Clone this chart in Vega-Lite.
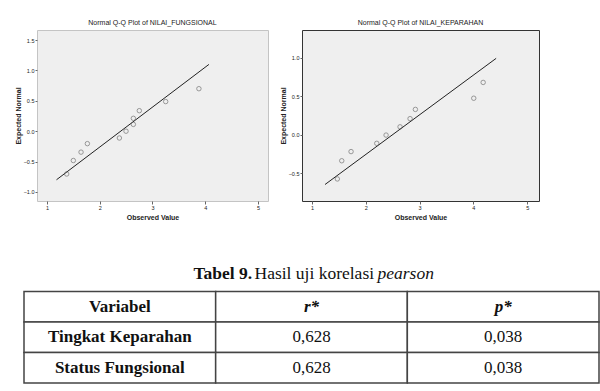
{
  "$schema": "https://vega.github.io/schema/vega-lite/v6.json",
  "background": "white",
  "padding": {"left": 13, "top": 18, "right": 0, "bottom": 0},
  "config": {"font": "Liberation Sans", "axis": {"grid": false, "labelOverlap": false, "labelFlush": false, "labelBound": false, "labelSeparation": 0}},
  "columns": 1,
  "align": "none",
  "spacing": 40,
  "concat": [
    {
      "spacing": 9,
      "hconcat": [
        {
          "width": 231,
          "height": 171,
          "view": {"fill": "#efefef", "stroke": "#c4c4c4"},
          "title": {"text": "Normal Q-Q Plot of NILAI_FUNGSIONAL", "fontSize": 7, "fontWeight": "normal", "color": "#222", "offset": 4},
          "encoding": {
            "x": {"field": "x", "type": "quantitative", "scale": {"domain": [0.81, 5.19], "nice": false, "zero": false},
              "axis": {"values": [1, 2, 3, 4, 5], "format": "d", "labelOverlap": false, "title": "Observed Value", "titleFontSize": 7, "titleFontWeight": "bold", "titleColor": "#222", "titlePadding": 3, "labelFontSize": 5.5, "labelColor": "#222", "labelPadding": 1, "tickSize": 3, "tickColor": "#666", "domain": false}},
            "y": {"field": "y", "type": "quantitative", "scale": {"domain": [-1.15, 1.667], "nice": false, "zero": false},
              "axis": {"values": [-1, -0.5, 0, 0.5, 1, 1.5], "format": ".1f", "labelOverlap": false, "title": "Expected Normal", "titleFontSize": 7, "titleFontWeight": "bold", "titleColor": "#222", "titlePadding": 2, "labelFontSize": 5.5, "labelColor": "#222", "labelPadding": 1, "tickSize": 2, "tickColor": "#666", "domain": false}}
          },
          "layer": [
            {
              "data": {"values": [{"x": 1.18, "y": -0.8}, {"x": 4.07, "y": 1.1}]},
              "mark": {"type": "line", "color": "#222", "strokeWidth": 1}
            },
            {
              "data": {"values": [
                {"x": 1.373, "y": -0.705}, {"x": 1.499, "y": -0.483}, {"x": 1.645, "y": -0.345}, {"x": 1.765, "y": -0.205},
                {"x": 2.372, "y": -0.112}, {"x": 2.498, "y": 0.0}, {"x": 2.637, "y": 0.112}, {"x": 2.637, "y": 0.212},
                {"x": 2.75, "y": 0.338}, {"x": 3.25, "y": 0.488}, {"x": 3.88, "y": 0.7}
              ]},
              "mark": {"type": "point", "shape": "circle", "filled": false, "size": 20, "color": "#555", "strokeWidth": 0.8}
            }
          ]
        },
        {
          "width": 237,
          "height": 171,
          "view": {"fill": "#efefef", "stroke": "#333"},
          "title": {"text": "Normal Q-Q Plot of NILAI_KEPARAHAN", "fontSize": 7, "fontWeight": "normal", "color": "#222", "offset": 4},
          "encoding": {
            "x": {"field": "x", "type": "quantitative", "scale": {"domain": [0.814, 5.22], "nice": false, "zero": false},
              "axis": {"values": [1, 2, 3, 4, 5], "format": "d", "labelOverlap": false, "title": "Observed Value", "titleFontSize": 7, "titleFontWeight": "bold", "titleColor": "#222", "titlePadding": 3, "labelFontSize": 5.5, "labelColor": "#222", "labelPadding": 1, "tickSize": 3, "tickColor": "#666", "domain": false}},
            "y": {"field": "y", "type": "quantitative", "scale": {"domain": [-0.859, 1.359], "nice": false, "zero": false},
              "axis": {"values": [-0.5, 0, 0.5, 1], "format": ".1f", "labelOverlap": false, "title": "Expected Normal", "titleFontSize": 7, "titleFontWeight": "bold", "titleColor": "#222", "titlePadding": 2, "labelFontSize": 5.5, "labelColor": "#222", "labelPadding": 1, "tickSize": 2, "tickColor": "#666", "domain": false}}
          },
          "layer": [
            {
              "data": {"values": [{"x": 1.242, "y": -0.645}, {"x": 4.423, "y": 0.991}]},
              "mark": {"type": "line", "color": "#222", "strokeWidth": 1}
            },
            {
              "data": {"values": [
                {"x": 1.471, "y": -0.573}, {"x": 1.553, "y": -0.337}, {"x": 1.726, "y": -0.218}, {"x": 2.204, "y": -0.111},
                {"x": 2.377, "y": -0.004}, {"x": 2.637, "y": 0.103}, {"x": 2.823, "y": 0.209}, {"x": 2.922, "y": 0.329},
                {"x": 4.007, "y": 0.474}, {"x": 4.182, "y": 0.679}
              ]},
              "mark": {"type": "point", "shape": "circle", "filled": false, "size": 20, "color": "#555", "strokeWidth": 0.8}
            }
          ]
        }
      ]
    },
    {
      "width": 562,
      "height": 122,
      "view": {"stroke": null},
      "data": {"values": [
        {"row": "title", "col": "c2", "label": "Tabel 9."},
        {"row": "title", "col": "c2", "label": "Hasil uji korelasi"},
        {"row": "title", "col": "c2", "label": "pearson"},
        {"row": "header", "col": "c1", "label": "Variabel"},
        {"row": "header", "col": "c2", "label": "r*"},
        {"row": "header", "col": "c3", "label": "p*"},
        {"row": "row1", "col": "c1", "label": "Tingkat Keparahan"},
        {"row": "row1", "col": "c2", "label": "0,628"},
        {"row": "row1", "col": "c3", "label": "0,038"},
        {"row": "row2", "col": "c1", "label": "Status Fungsional"},
        {"row": "row2", "col": "c2", "label": "0,628"},
        {"row": "row2", "col": "c3", "label": "0,038"}
      ]},
      "encoding": {
        "x": {"field": "col", "type": "nominal", "sort": ["c1", "c2", "c3"], "scale": {"paddingInner": 0, "paddingOuter": 0, "range": [-13, 562]}, "axis": null},
        "y": {"field": "row", "type": "nominal", "sort": ["title", "header", "row1", "row2"], "scale": {"paddingInner": 0, "paddingOuter": 0}, "axis": null}
      },
      "layer": [
        {"transform": [{"filter": "datum.row != 'title'"}], "mark": {"type": "rect", "fill": "white", "stroke": "#444", "strokeWidth": 1.5}},
        {"transform": [{"filter": "datum.col == 'c1'"}], "mark": {"type": "text", "font": "Liberation Serif", "fontSize": 17, "fontWeight": "bold", "color": "#111"}, "encoding": {"text": {"field": "label"}}},
        {"transform": [{"filter": "datum.row == 'header' && datum.col != 'c1'"}], "mark": {"type": "text", "font": "Liberation Serif", "fontSize": 17, "fontWeight": "bold", "fontStyle": "italic", "color": "#111"}, "encoding": {"text": {"field": "label"}}},
        {"transform": [{"filter": "(datum.row == 'row1' || datum.row == 'row2') && datum.col != 'c1'"}], "mark": {"type": "text", "font": "Liberation Serif", "fontSize": 17, "color": "#111"}, "encoding": {"text": {"field": "label"}}},
        {"transform": [{"filter": "datum.label == 'Tabel 9.'"}], "mark": {"type": "text", "font": "Liberation Serif", "fontSize": 17.5, "fontWeight": "bold", "align": "left", "dx": -118, "dy": -2, "color": "#111"}, "encoding": {"text": {"field": "label"}}},
        {"transform": [{"filter": "datum.label == 'Hasil uji korelasi'"}], "mark": {"type": "text", "font": "Liberation Serif", "fontSize": 17.5, "align": "left", "dx": -57, "dy": -2, "color": "#111"}, "encoding": {"text": {"field": "label"}}},
        {"transform": [{"filter": "datum.label == 'pearson'"}], "mark": {"type": "text", "font": "Liberation Serif", "fontSize": 17.5, "fontStyle": "italic", "align": "left", "dx": 66, "dy": -2, "color": "#111"}, "encoding": {"text": {"field": "label"}}}
      ]
    }
  ]
}
